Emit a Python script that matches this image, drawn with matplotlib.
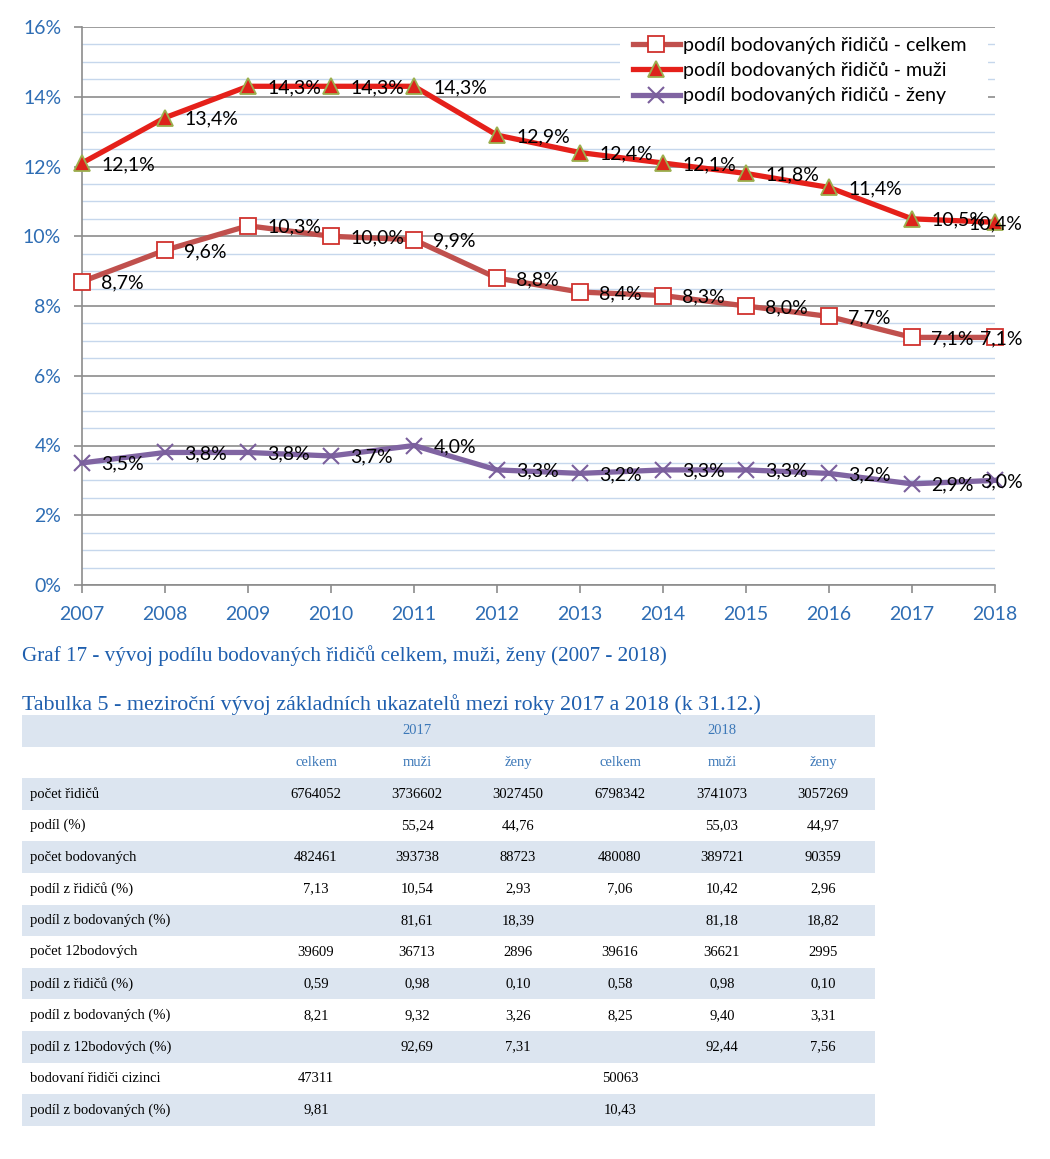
import numpy as np
import matplotlib

matplotlib.use("Agg")

import matplotlib.pyplot as plt
from matplotlib.patches import Rectangle
from matplotlib.ticker import MultipleLocator, FuncFormatter

# chart data
years = [2007, 2008, 2009, 2010, 2011, 2012, 2013, 2014, 2015, 2016, 2017, 2018]
celkem = [8.7, 9.6, 10.3, 10.0, 9.9, 8.8, 8.4, 8.3, 8.0, 7.7, 7.1, 7.1]
muzi = [12.1, 13.4, 14.3, 14.3, 14.3, 12.9, 12.4, 12.1, 11.8, 11.4, 10.5, 10.4]
zeny = [3.5, 3.8, 3.8, 3.7, 4.0, 3.3, 3.2, 3.3, 3.3, 3.2, 2.9, 3.0]

series_names = ["podíl bodovaných řidičů - celkem",
                "podíl bodovaných řidičů - muži",
                "podíl bodovaných řidičů - ženy"]

# table data
tab_years = ["2017", "2018"]
tab_cols = ["celkem", "muži", "ženy", "celkem", "muži", "ženy"]
tab_rows = ["počet řidičů", "podíl (%)", "počet bodovaných", "podíl z řidičů (%)",
            "podíl z bodovaných (%)", "počet 12bodových", "podíl z řidičů (%)",
            "podíl z bodovaných (%)", "podíl z 12bodových (%)",
            "bodovaní řidiči cizinci", "podíl z bodovaných (%)"]
tab_vals = [
    ["6764052", "3736602", "3027450", "6798342", "3741073", "3057269"],
    ["", "55,24", "44,76", "", "55,03", "44,97"],
    ["482461", "393738", "88723", "480080", "389721", "90359"],
    ["7,13", "10,54", "2,93", "7,06", "10,42", "2,96"],
    ["", "81,61", "18,39", "", "81,18", "18,82"],
    ["39609", "36713", "2896", "39616", "36621", "2995"],
    ["0,59", "0,98", "0,10", "0,58", "0,98", "0,10"],
    ["8,21", "9,32", "3,26", "8,25", "9,40", "3,31"],
    ["", "92,69", "7,31", "", "92,44", "7,56"],
    ["47311", "", "", "50063", "", ""],
    ["9,81", "", "", "10,43", "", ""],
]

W, H = 1050, 1159
fig = plt.figure(figsize=(W / 100, H / 100), dpi=100)

# ======================
# LINE CHART
# ======================
ax = fig.add_axes([82 / W, 1 - 585 / H, (995 - 82) / W, (585 - 27) / H])

tick_blue = "#2E6DB4"
grid_gray = "#8C8C8C"

ax.set_xlim(2007, 2018)
ax.set_ylim(0, 16)
ax.yaxis.set_major_locator(MultipleLocator(2))
ax.yaxis.set_minor_locator(MultipleLocator(0.5))
ax.xaxis.set_major_locator(MultipleLocator(1))
ax.yaxis.set_major_formatter(FuncFormatter(lambda v, p: f"{v:.0f}%"))
ax.xaxis.set_major_formatter(FuncFormatter(lambda v, p: f"{v:.0f}"))

ax.grid(which="minor", axis="y", color="#C6D7EC", linewidth=1.0)
ax.grid(which="major", axis="y", color=grid_gray, linewidth=1.2)
ax.set_axisbelow(True)

for s in ["top", "right"]:
    ax.spines[s].set_visible(False)
for s in ["left", "bottom"]:
    ax.spines[s].set_color(grid_gray)
    ax.spines[s].set_linewidth(1.2)

ax.tick_params(axis="both", which="major", colors=grid_gray, labelcolor=tick_blue,
               labelsize=14, length=6, width=1.2)
ax.tick_params(axis="y", which="minor", length=0)
ax.tick_params(axis="x", pad=9)
ax.tick_params(axis="y", pad=9)
for lab in ax.get_xticklabels() + ax.get_yticklabels():
    lab.set_fontfamily("Lato")

l1, = ax.plot(years, celkem, color="#C0504D", linewidth=3.8, marker="s",
              markersize=11, markerfacecolor="white", markeredgecolor="#D0312D",
              markeredgewidth=1.3, clip_on=False, zorder=3, label=series_names[0])
l2, = ax.plot(years, muzi, color="#E5201A", linewidth=3.8, marker="^",
              markersize=12, markerfacecolor="#DD231B", markeredgecolor="#9BAF4E",
              markeredgewidth=1.3, clip_on=False, zorder=3, label=series_names[1])
l3, = ax.plot(years, zeny, color="#8064A2", linewidth=3.8, marker="x",
              markersize=12, markeredgecolor="#7A5F9C", markeredgewidth=1.5,
              clip_on=False, zorder=3, label=series_names[2])

# data labels right of the points, last one pulled back inside the chart area
for ser in [celkem, muzi, zeny]:
    for i, (x, y) in enumerate(zip(years, ser)):
        txt = f"{y:.1f}%".replace(".", ",")
        if i == len(years) - 1:
            off, ha = (20, -1), "right"
        else:
            off, ha = (14, -1), "left"
        ax.annotate(txt, (x, y), xytext=off, textcoords="offset points",
                    ha=ha, va="center", fontsize=14, family="Lato",
                    color="black", zorder=4, annotation_clip=False)

# white legend area hiding the gridlines
ax.add_patch(Rectangle((620 / W, 1 - 108 / H), 368 / W, 79 / H,
                       transform=fig.transFigure, facecolor="white",
                       edgecolor="none", zorder=1.5))

leg = ax.legend(handles=[l1, l2, l3], loc="upper right",
                bbox_to_anchor=(966 / W, 1 - 37 / H), bbox_transform=fig.transFigure,
                frameon=False, prop={"family": "Lato", "size": 14},
                handlelength=2.4, handletextpad=0.15, labelspacing=0.42,
                borderpad=0, borderaxespad=0)
leg.set_zorder(5)

# ======================
# CAPTIONS + TABLE
# ======================
ov = fig.add_axes([0, 0, 1, 1])
ov.set_xlim(0, W)
ov.set_ylim(H, 0)
ov.axis("off")

cap_blue = "#1F5FAE"
serif = "Liberation Serif"
ov.text(22, 656, "Graf 17 - vývoj podílu bodovaných řidičů celkem, muži, ženy (2007 - 2018)",
        family=serif, fontsize=15.2, color=cap_blue, va="center", ha="left")
ov.text(22, 705, "Tabulka 5 - meziroční vývoj základních ukazatelů mezi roky 2017 a 2018 (k 31.12.)",
        family=serif, fontsize=15.8, color=cap_blue, va="center", ha="left")

tab_left, tab_right = 22, 875
row_top = 715
row_h = 31.6
col_x = [316, 417, 518, 620, 722, 823]
shade = "#DCE5F0"
head_blue = "#3C78B8"

n_rows = 2 + len(tab_rows)
for i in range(n_rows):
    y0 = row_top + i * row_h
    if i % 2 == 0:
        ov.add_patch(Rectangle((tab_left, y0), tab_right - tab_left, row_h,
                               facecolor=shade, edgecolor="none"))

# header rows
ov.text(col_x[1], row_top + row_h / 2, tab_years[0], family=serif, fontsize=10.5,
        color=head_blue, ha="center", va="center")
ov.text(col_x[4], row_top + row_h / 2, tab_years[1], family=serif, fontsize=10.5,
        color=head_blue, ha="center", va="center")
for cx, name in zip(col_x, tab_cols):
    ov.text(cx, row_top + 1.5 * row_h, name, family=serif, fontsize=10.5,
            color=head_blue, ha="center", va="center")

for r, (rname, vals) in enumerate(zip(tab_rows, tab_vals)):
    yc = row_top + (r + 2.5) * row_h
    ov.text(30, yc, rname, family=serif, fontsize=10.5, color="black",
            ha="left", va="center")
    for cx, v in zip(col_x, vals):
        if v:
            ov.text(cx, yc, v, family=serif, fontsize=10.5, color="black",
                    ha="center", va="center")

fig.savefig("out.png", dpi=100)
